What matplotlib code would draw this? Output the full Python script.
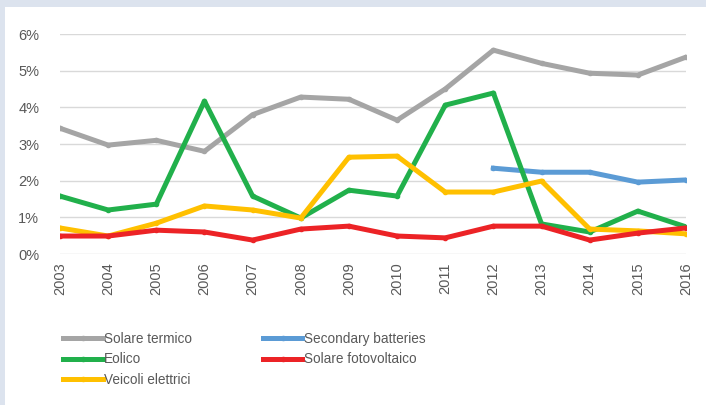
import numpy as np
import matplotlib.pyplot as plt
from matplotlib.patches import Rectangle

years = list(range(2003, 2017))
solare_termico = [3.43, 2.97, 3.10, 2.80, 3.80, 4.28, 4.22, 3.65, 4.50, 5.56, 5.20, 4.93, 4.88, 5.37]
eolico = [1.58, 1.20, 1.36, 4.17, 1.58, 0.98, 1.74, 1.58, 4.06, 4.39, 0.82, 0.60, 1.17, 0.74]
veicoli = [0.71, 0.49, 0.84, 1.31, 1.20, 0.98, 2.64, 2.67, 1.69, 1.69, 1.99, 0.68, 0.63, 0.55]
fotovoltaico = [0.49, 0.49, 0.65, 0.60, 0.38, 0.68, 0.76, 0.49, 0.44, 0.76, 0.76, 0.38, 0.57, 0.71]
batt_years = [2012, 2013, 2014, 2015, 2016]
batterie = [2.34, 2.23, 2.23, 1.96, 2.02]

plt.rcParams['font.family'] = ['Liberation Sans', 'DejaVu Sans']
txt = '#595959'

fig = plt.figure(figsize=(7.06, 4.05), dpi=100)
fig.patch.set_facecolor('#dce3ee')
fig.patches.append(Rectangle((5/706, 0), 1, 1 - 7/405, transform=fig.transFigure,
                             facecolor='white', edgecolor='none', zorder=-10))

ax = fig.add_axes([60/706, 1 - 254/405, 626/706, 220/405])
ax.set_facecolor('none')

lw = 3.6
ms = 3
l1, = ax.plot(years, solare_termico, color='#a5a5a5', lw=lw, marker='o', ms=ms, label='Solare termico')
l2, = ax.plot(batt_years, batterie, color='#5b9bd5', lw=lw, marker='o', ms=ms, label='Secondary batteries')
l3, = ax.plot(years, eolico, color='#21b04b', lw=lw, marker='o', ms=ms, label='Eolico')
l5, = ax.plot(years, veicoli, color='#ffc000', lw=lw, marker='o', ms=ms, label='Veicoli elettrici')
l4, = ax.plot(years, fotovoltaico, color='#ec2326', lw=lw, marker='o', ms=ms, label='Solare fotovoltaico')

ax.set_xlim(2003, 2016)
ax.set_ylim(0, 6)
ax.set_yticks(range(0, 7))
ax.set_yticklabels([f'{v}%' for v in range(0, 7)])
ax.set_xticks(years)
ax.set_xticklabels([str(y) for y in years], rotation=90)
ax.tick_params(axis='both', length=0, labelsize=10.5, colors=txt)
ax.tick_params(axis='y', pad=15)
ax.tick_params(axis='x', pad=6)
ax.grid(axis='y', color='#d9d9d9', lw=1)
ax.set_axisbelow(True)
for s in ax.spines.values():
    s.set_visible(False)

leg = fig.legend(handles=[l1, l3, l5, l2, l4], ncol=2, loc='upper left',
                 bbox_to_anchor=(51/706, 1 - 320/405), frameon=False,
                 fontsize=9.8, handlelength=2.9, handletextpad=0.1,
                 columnspacing=5.2, labelspacing=0.45)
for t in leg.get_texts():
    t.set_color(txt)

fig.savefig('out.png', dpi=100)
